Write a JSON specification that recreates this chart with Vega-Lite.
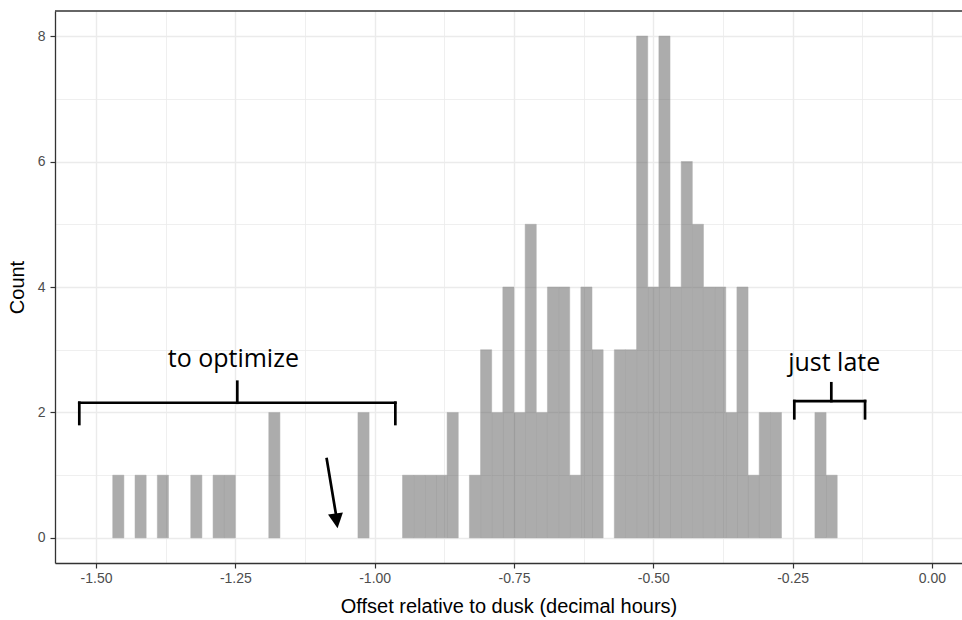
{
  "$schema": "https://vega.github.io/schema/vega-lite/v6.json",
  "autosize": {"type": "none"},
  "padding": {"left": 55, "top": 11, "right": 0, "bottom": 57},
  "width": 907,
  "height": 552,
  "background": "white",
  "config": {"view": {"stroke": null}},
  "layer": [
    {
      "data": {"values": [
        {"start": -1.47, "end": -1.45, "count": 1},
        {"start": -1.43, "end": -1.41, "count": 1},
        {"start": -1.39, "end": -1.37, "count": 1},
        {"start": -1.33, "end": -1.31, "count": 1},
        {"start": -1.29, "end": -1.27, "count": 1},
        {"start": -1.27, "end": -1.25, "count": 1},
        {"start": -1.19, "end": -1.17, "count": 2},
        {"start": -1.03, "end": -1.01, "count": 2},
        {"start": -0.95, "end": -0.93, "count": 1},
        {"start": -0.93, "end": -0.91, "count": 1},
        {"start": -0.91, "end": -0.89, "count": 1},
        {"start": -0.89, "end": -0.87, "count": 1},
        {"start": -0.87, "end": -0.85, "count": 2},
        {"start": -0.83, "end": -0.81, "count": 1},
        {"start": -0.81, "end": -0.79, "count": 3},
        {"start": -0.79, "end": -0.77, "count": 2},
        {"start": -0.77, "end": -0.75, "count": 4},
        {"start": -0.75, "end": -0.73, "count": 2},
        {"start": -0.73, "end": -0.71, "count": 5},
        {"start": -0.71, "end": -0.69, "count": 2},
        {"start": -0.69, "end": -0.67, "count": 4},
        {"start": -0.67, "end": -0.65, "count": 4},
        {"start": -0.65, "end": -0.63, "count": 1},
        {"start": -0.63, "end": -0.61, "count": 4},
        {"start": -0.61, "end": -0.59, "count": 3},
        {"start": -0.57, "end": -0.55, "count": 3},
        {"start": -0.55, "end": -0.53, "count": 3},
        {"start": -0.53, "end": -0.51, "count": 8},
        {"start": -0.51, "end": -0.49, "count": 4},
        {"start": -0.49, "end": -0.47, "count": 8},
        {"start": -0.47, "end": -0.45, "count": 4},
        {"start": -0.45, "end": -0.43, "count": 6},
        {"start": -0.43, "end": -0.41, "count": 5},
        {"start": -0.41, "end": -0.39, "count": 4},
        {"start": -0.39, "end": -0.37, "count": 4},
        {"start": -0.37, "end": -0.35, "count": 2},
        {"start": -0.35, "end": -0.33, "count": 4},
        {"start": -0.33, "end": -0.31, "count": 1},
        {"start": -0.31, "end": -0.29, "count": 2},
        {"start": -0.29, "end": -0.27, "count": 2},
        {"start": -0.21, "end": -0.19, "count": 2},
        {"start": -0.19, "end": -0.17, "count": 1}
      ]},
      "mark": {"type": "bar", "fill": "#595959", "fillOpacity": 0.5, "stroke": "#ACACAC", "strokeOpacity": 1, "strokeWidth": 0.5},
      "encoding": {
        "x": {"field": "start", "type": "quantitative",
          "scale": {"domain": [-1.5736, 0.0539], "nice": false, "zero": false},
          "axis": {"title": "Offset relative to dusk (decimal hours)",
            "values": [-1.5, -1.375, -1.25, -1.125, -1, -0.875, -0.75, -0.625, -0.5, -0.375, -0.25, -0.125, 0],
            "labelExpr": "abs(round(datum.value*8)) % 2 == 0 ? replace(format(datum.value, '.2f'), '\u2212', '-') : ''",
            "labelOverlap": false, "labelFlush": false,
            "domain": true, "domainColor": "#333333", "domainWidth": 1.3,
            "grid": true, "gridColor": "#EBEBEB",
            "gridWidth": {"condition": {"test": "abs(round(datum.value*8)) % 2 == 1", "value": 0.8}, "value": 1.4},
            "ticks": true, "tickColor": "#333333", "tickSize": 5, "tickWidth": 1.2,
            "tickOpacity": {"condition": {"test": "abs(round(datum.value*8)) % 2 == 1", "value": 0}, "value": 1},
            "labelFont": "Liberation Sans", "labelFontSize": 14, "labelColor": "#4D4D4D", "labelPadding": 3,
            "titleFont": "Liberation Sans", "titleFontSize": 20, "titleFontWeight": "normal", "titleColor": "#000000", "titlePadding": 11}},
        "x2": {"field": "end"},
        "y": {"field": "count", "type": "quantitative",
          "scale": {"domain": [-0.4, 8.4], "nice": false, "zero": false},
          "axis": {"title": "Count",
            "values": [0, 1, 2, 3, 4, 5, 6, 7, 8],
            "format": "d",
            "labelExpr": "datum.value % 2 == 0 ? format(datum.value, 'd') : ''",
            "labelOverlap": false, "labelFlush": false,
            "domain": true, "domainColor": "#333333", "domainWidth": 1.3,
            "grid": true, "gridColor": "#EBEBEB",
            "gridWidth": {"condition": {"test": "datum.value % 2 == 1", "value": 0.8}, "value": 1.4},
            "ticks": true, "tickColor": "#333333", "tickSize": 5, "tickWidth": 1.2,
            "tickOpacity": {"condition": {"test": "datum.value % 2 == 1", "value": 0}, "value": 1},
            "labelFont": "Liberation Sans", "labelFontSize": 14, "labelColor": "#4D4D4D", "labelPadding": 5,
            "titleFont": "Liberation Sans", "titleFontSize": 20, "titleFontWeight": "normal", "titleColor": "#000000", "titlePadding": 10}},
        "y2": {"datum": 0}
      }
    },
    {
      "data": {"values": [{"top": 8.4}]},
      "mark": {"type": "rule", "color": "#333333", "strokeWidth": 1.3},
      "encoding": {
        "y": {"field": "top", "type": "quantitative"}
      }
    },
    {
      "data": {"values": [
        {"x": -1.530, "y": 2.155, "x2": -0.9629, "y2": 2.155},
        {"x": -1.530, "y": 2.155, "x2": -1.530, "y2": 1.816},
        {"x": -0.9629, "y": 2.155, "x2": -0.9629, "y2": 1.816},
        {"x": -1.2465, "y": 2.155, "x2": -1.2465, "y2": 2.490},
        {"x": -0.2470, "y": 2.182, "x2": -0.1201, "y2": 2.182},
        {"x": -0.2470, "y": 2.182, "x2": -0.2470, "y2": 1.907},
        {"x": -0.1201, "y": 2.182, "x2": -0.1201, "y2": 1.907},
        {"x": -0.1806, "y": 2.182, "x2": -0.1806, "y2": 2.465},
        {"x": -1.0860, "y": 1.258, "x2": -1.0697, "y2": 0.389}
      ]},
      "mark": {"type": "rule", "color": "#000000", "strokeWidth": 2.7, "strokeCap": "square"},
      "encoding": {
        "x": {"field": "x", "type": "quantitative"},
        "x2": {"field": "x2"},
        "y": {"field": "y", "type": "quantitative"},
        "y2": {"field": "y2"}
      }
    },
    {
      "data": {"values": [{"x": -1.06846, "y": 0.271}]},
      "mark": {"type": "point", "shape": "M -1 -1 L 1 -1 L 0 1 Z", "size": 225, "angle": -8, "filled": true, "color": "#000000", "opacity": 1, "strokeWidth": 0},
      "encoding": {
        "x": {"field": "x", "type": "quantitative"},
        "y": {"field": "y", "type": "quantitative"}
      }
    },
    {
      "data": {"values": [
        {"x": -1.2536, "y": 2.720, "label": "to optimize"},
        {"x": -0.1754, "y": 2.656, "label": "just late"}
      ]},
      "mark": {"type": "text", "font": "Open Sans", "fontSize": 25, "color": "#000000", "align": "center", "baseline": "alphabetic"},
      "encoding": {
        "x": {"field": "x", "type": "quantitative"},
        "y": {"field": "y", "type": "quantitative"},
        "text": {"field": "label"}
      }
    }
  ]
}
